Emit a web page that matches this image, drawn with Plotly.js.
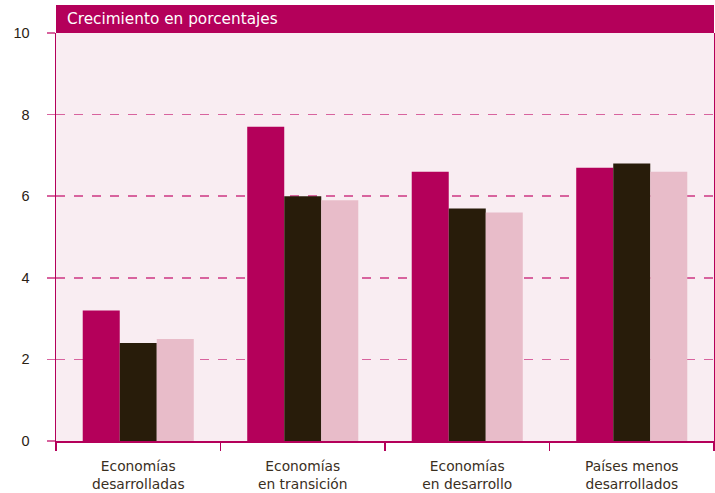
<!DOCTYPE html>
<html>
<head>
<meta charset="utf-8">
<script src="https://cdn.plot.ly/plotly-3.0.1.min.js"></script>
<style>html,body{margin:0;padding:0;background:#fff}#chart{width:715px;height:493px}</style>
</head>
<body>
<div id="chart"></div>
<script>
const categories = ["Economías<br>desarrolladas", "Economías<br>en transición", "Economías<br>en desarrollo", "Países menos<br>desarrollados"];
const series1 = [3.2, 7.7, 6.6, 6.7];
const series2 = [2.4, 6.0, 5.7, 6.8];
const series3 = [2.5, 5.9, 5.6, 6.6];
const yTicks = [0, 2, 4, 6, 8, 10];
const titleText = "Crecimiento en porcentajes";

const magenta = "#b4005a";
const grid = "#d8639e";
const traces = [
  {type: "bar", x: categories, y: series1, marker: {color: magenta}, hoverinfo: "none"},
  {type: "bar", x: categories, y: series2, marker: {color: "#281c0a"}, hoverinfo: "none"},
  {type: "bar", x: categories, y: series3, marker: {color: "#e8bcc9"}, hoverinfo: "none"}
];
const layout = {
  width: 715, height: 493,
  margin: {l: 56, r: 1, t: 33, b: 52},
  paper_bgcolor: "#ffffff",
  plot_bgcolor: "#f9edf2",
  showlegend: false,
  barmode: "group",
  bargap: 0.325,
  bargroupgap: 0,
  font: {family: "DejaVu Sans, Liberation Sans, sans-serif", color: "#2a2114", size: 14},
  xaxis: {
    type: "category",
    tickson: "boundaries",
    ticks: "outside", ticklen: 8, tickcolor: magenta, tickwidth: 1.5,
    ticklabelstandoff: 12,
    showline: true, linecolor: magenta, linewidth: 1.5,
    showgrid: false, zeroline: false,
    tickfont: {family: "DejaVu Sans, sans-serif", size: 13.8, color: "#3a2f1e"}
  },
  yaxis: {
    range: [0, 10],
    tickvals: yTicks,
    ticktext: yTicks.map(String),
    ticks: "outside", ticklen: 8, tickcolor: grid, tickwidth: 1.5,
    ticklabelstandoff: 14,
    showline: true, mirror: true, linecolor: magenta, linewidth: 1.5,
    showgrid: true, gridcolor: grid, griddash: "dash", gridwidth: 1.5,
    zeroline: false,
    tickfont: {family: "Liberation Sans, Arial, sans-serif", size: 14.5, color: "#2a2114"}
  },
  shapes: [
    {type: "rect", xref: "paper", yref: "paper", x0: 0, x1: 1, y0: 1, y1: 1.0686,
     fillcolor: magenta, line: {width: 0}, layer: "above"}
  ],
  annotations: [
    {xref: "paper", yref: "paper", x: 0.014, y: 1.034, xanchor: "left", yanchor: "middle",
     text: titleText, showarrow: false,
     font: {family: "DejaVu Sans, sans-serif", size: 15.3, color: "#ffffff"}}
  ]
};
Plotly.newPlot("chart", traces, layout, {displayModeBar: false, staticPlot: true});
</script>
</body>
</html>
